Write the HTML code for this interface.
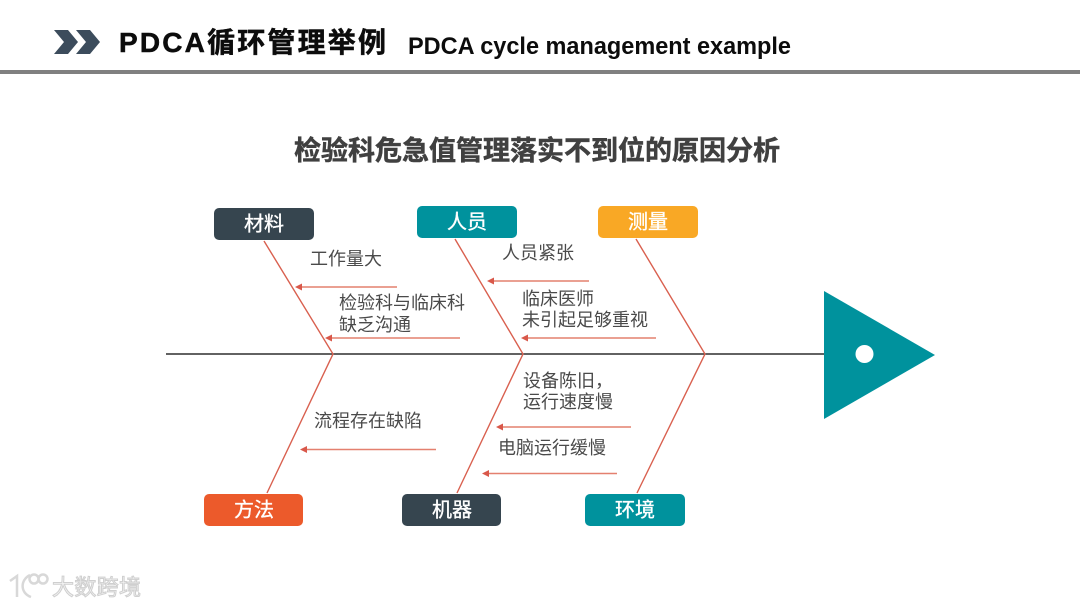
<!DOCTYPE html>
<html lang="zh">
<head>
<meta charset="utf-8">
<style>
html,body{margin:0;padding:0;background:#fff;width:1080px;height:607px;overflow:hidden}
svg{display:block}
text{font-family:"Liberation Sans","Noto Sans CJK SC",sans-serif}
.l{font-size:18px;fill:#4a4a4a}
.b{font-size:20px;fill:#fff;text-anchor:middle;stroke:#fff;stroke-width:.35}
</style>
</head>
<body>
<svg width="1080" height="607" viewBox="0 0 1080 607" xmlns="http://www.w3.org/2000/svg">
<rect width="1080" height="607" fill="#fff"/>
<path d="M54 30H68L78 42L68 54H54L64 42z" fill="#3c4c5c"/>
<path d="M76 30H90L100 42L90 54H76L86 42z" fill="#3c4c5c"/>
<text x="119" y="52" font-size="28" font-weight="700" fill="#0c0c0c" stroke="#0c0c0c" stroke-width=".5" textLength="267" lengthAdjust="spacing">PDCA循环管理举例</text>
<text x="408" y="54" font-size="24.5" font-weight="700" fill="#0c0c0c" textLength="383" lengthAdjust="spacingAndGlyphs">PDCA cycle management example</text>
<rect x="0" y="70" width="1080" height="4" fill="#808080"/>
<text x="294" y="160" font-size="27" font-weight="700" fill="#404040" stroke="#404040" stroke-width=".5" textLength="486" lengthAdjust="spacing">检验科危急值管理落实不到位的原因分析</text>

<line x1="166" y1="354" x2="825" y2="354" stroke="#2e2e2e" stroke-width="1.4"/>
<path d="M824 291L935 355L824 419z" fill="#00929d"/>
<circle cx="864.500" cy="354" r="9" fill="#fff"/>

<g fill="none" stroke="#d9604f" stroke-width="1.4">
<path d="M264 241L333 354L267 493"/>
<path d="M455 239L523 354L457 493"/>
<path d="M636 239L705 354L637 493"/>
</g>
<g stroke="#e4806f" stroke-width="1.5">
<line x1="397" y1="287" x2="300" y2="287"/>
<line x1="460" y1="338" x2="330" y2="338"/>
<line x1="589" y1="281" x2="492" y2="281"/>
<line x1="656" y1="338" x2="526" y2="338"/>
<line x1="436" y1="449.500" x2="305" y2="449.500"/>
<line x1="631" y1="427" x2="501" y2="427"/>
<line x1="617" y1="473.500" x2="487" y2="473.500"/>
</g>
<g fill="#d9584a">
<path d="M295 287L302 283.500V290.500z"/>
<path d="M325 338L332 334.500V341.500z"/>
<path d="M487 281L494 277.500V284.500z"/>
<path d="M521 338L528 334.500V341.500z"/>
<path d="M300 449.500L307 446V453z"/>
<path d="M496 427L503 423.500V430.500z"/>
<path d="M482 473.500L489 470V477z"/>
</g>

<rect x="214" y="208" width="100" height="32" rx="5" fill="#36454f"/>
<rect x="417" y="206" width="100" height="32" rx="5" fill="#00929d"/>
<rect x="598" y="206" width="100" height="32" rx="5" fill="#f9a825"/>
<rect x="204" y="494" width="99" height="32" rx="5" fill="#ec5a2b"/>
<rect x="402" y="494" width="99" height="32" rx="5" fill="#36454f"/>
<rect x="585" y="494" width="100" height="32" rx="5" fill="#00929d"/>
<text class="b" x="264" y="230.500">材料</text>
<text class="b" x="467" y="228.500">人员</text>
<text class="b" x="648" y="228.500">测量</text>
<text class="b" x="254" y="516.500">方法</text>
<text class="b" x="452" y="516.500">机器</text>
<text class="b" x="635" y="516.500">环境</text>

<text class="l" x="310" y="265">工作量大</text>
<text class="l" x="339" y="309">检验科与临床科</text>
<text class="l" x="339" y="331">缺乏沟通</text>
<text class="l" x="502" y="259">人员紧张</text>
<text class="l" x="522" y="305">临床医师</text>
<text class="l" x="522" y="326">未引起足够重视</text>
<text class="l" x="314" y="427">流程存在缺陷</text>
<text class="l" x="523" y="387">设备陈旧，</text>
<text class="l" x="523" y="408">运行速度慢</text>
<text class="l" x="498" y="454">电脑运行缓慢</text>

<g fill="none" stroke="#d8d8d8" stroke-width="2.5">
<path d="M10 581L17 576V597M30 575C20 580 20 593 31 597"/>
<circle cx="34" cy="579" r="4.500"/>
<circle cx="43" cy="579" r="4.500"/>
</g>
<text x="52" y="595" font-size="22" fill="#f4f4f4" stroke="#cfcfcf" stroke-width="1" textLength="89" lengthAdjust="spacing">大数跨境</text>
</svg>
</body>
</html>
